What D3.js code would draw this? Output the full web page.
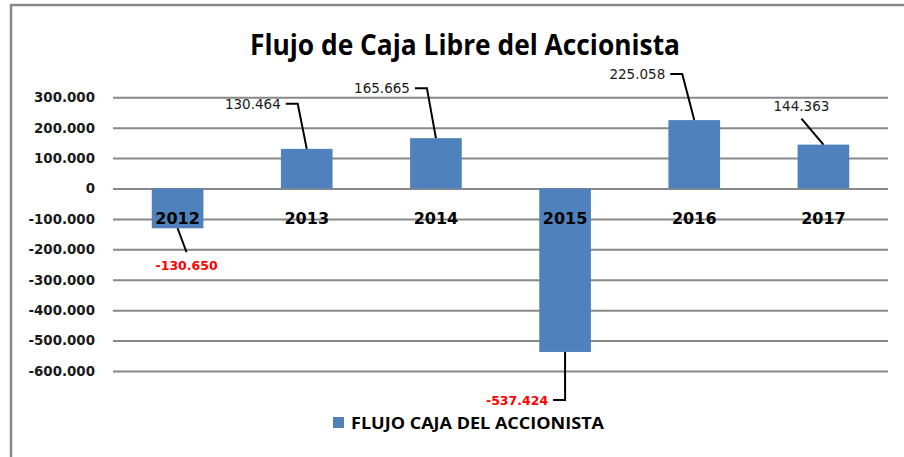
<!DOCTYPE html>
<html>
<head>
<meta charset="utf-8">
<script src="https://cdn.jsdelivr.net/npm/d3@7"></script>
<style>
  body { margin: 0; background: #fff; }
  svg { display: block; }
</style>
</head>
<body>
<div id="chart-area"></div>
<script>
// Data
const years = ["2012", "2013", "2014", "2015", "2016", "2017"];
const flujo = [-130650, 130464, 165665, -537424, 225058, 144363];
const tickValues = [300000, 200000, 100000, 0, -100000, -200000, -300000, -400000, -500000, -600000];
const seriesName = "FLUJO CAJA DEL ACCIONISTA";
const chartTitle = "Flujo de Caja Libre del Accionista";

// label placement relative to the bar tip (dx, dy, elbow style or straight)
const labelLayout = [
  { dx: 9, dy: 24, side: false },
  { dx: -9, dy: -45, side: true },
  { dx: -9, dy: -50, side: true },
  { dx: 0, dy: 48, side: true },
  { dx: -12, dy: -46, side: true },
  { dx: -22, dy: -26, side: false }
];

const W = 904, H = 457;
const barColor = "#4F81BD";
const gridColor = "#888888";

const fmt = v => {
  if (v === 0) return "0";
  const s = d3.format(",")(Math.abs(v)).replace(/,/g, ".");
  return (v < 0 ? "-" : "") + s;
};

const svg = d3
  .select("#chart-area")
  .append("svg")
  .attr("width", W)
  .attr("height", H);

// frame (top and left edges visible)
svg.append("path")
  .attr("d", `M11,${H} L11,5 L${W},5`)
  .attr("fill", "none")
  .attr("stroke", gridColor)
  .attr("stroke-width", 2.5);

// Title
svg.append("text")
  .attr("x", 465)
  .attr("y", 55)
  .attr("text-anchor", "middle")
  .attr("font-family", "'Open Sans', sans-serif")
  .attr("font-weight", "bold")
  .attr("font-size", "28px")
  .attr("textLength", 430)
  .attr("lengthAdjust", "spacingAndGlyphs")
  .attr("fill", "#000")
  .text(chartTitle);

// Scales
const plot = { left: 113, right: 888, top: 97.3, bottom: 371 };

const x = d3.scaleBand()
  .domain(years)
  .range([plot.left, plot.right])
  .paddingInner(0.6)
  .paddingOuter(0.3);

const y = d3.scaleLinear()
  .domain([-600000, 300000])
  .range([plot.bottom, plot.top]);

// Gridlines + tick labels
const yAxis = d3.axisLeft(y)
  .tickValues(tickValues)
  .tickSize(-(plot.right - plot.left))
  .tickFormat(fmt)
  .tickPadding(18);

const yAxisGroup = svg.append("g")
  .attr("transform", `translate(${plot.left},0)`)
  .call(yAxis);

yAxisGroup.select(".domain").remove();
yAxisGroup.selectAll(".tick line")
  .attr("stroke", gridColor)
  .attr("stroke-width", 2);
yAxisGroup.selectAll(".tick text")
  .attr("font-family", "'DejaVu Sans', sans-serif")
  .attr("font-weight", "bold")
  .attr("font-size", "13.4px")
  .attr("fill", "#1a1a1a");

// Bars
svg.append("g")
  .selectAll("rect")
  .data(flujo)
  .enter()
  .append("rect")
  .attr("x", (d, i) => x(years[i]))
  .attr("width", x.bandwidth())
  .attr("y", d => y(Math.max(0, d)))
  .attr("height", d => Math.abs(y(d) - y(0)))
  .attr("fill", barColor);

// Category labels (below zero line, drawn over bars)
svg.append("g")
  .selectAll("text")
  .data(years)
  .enter()
  .append("text")
  .attr("x", d => x(d) + x.bandwidth() / 2)
  .attr("y", y(0) + 35)
  .attr("text-anchor", "middle")
  .attr("font-family", "'DejaVu Sans', sans-serif")
  .attr("font-weight", "bold")
  .attr("font-size", "16px")
  .attr("fill", "#000")
  .text(d => d);

// Data labels with leader lines
const labels = svg.append("g");

flujo.forEach((v, i) => {
  const lay = labelLayout[i];
  const tx = x(years[i]) + x.bandwidth() / 2;
  const ty = y(v);
  const ex = tx + lay.dx;
  const ey = ty + lay.dy;
  const neg = v < 0;

  let pts, textX, textY, anchor;
  if (lay.side) {
    pts = [[tx, ty], [ex, ey], [ex - 12, ey]];
    textX = ex - 17;
    textY = ey + 5;
    anchor = "end";
  } else {
    pts = [[tx, ty], [ex, ey]];
    textX = ex;
    textY = neg ? ey + 18 : ey - 8;
    anchor = "middle";
  }

  labels.append("path")
    .attr("d", d3.line()(pts))
    .attr("fill", "none")
    .attr("stroke", "#000")
    .attr("stroke-width", 2);

  labels.append("text")
    .attr("x", textX)
    .attr("y", textY)
    .attr("text-anchor", anchor)
    .attr("font-family", "'DejaVu Sans', sans-serif")
    .attr("font-weight", neg ? "bold" : "normal")
    .attr("font-size", neg ? "12.5px" : "13.5px")
    .attr("fill", neg ? "#FF0000" : "#1a1a1a")
    .text(fmt(v));
});

// Legend
const legend = svg.append("g").attr("transform", "translate(333,417)");
legend.append("rect")
  .attr("width", 11)
  .attr("height", 11)
  .attr("fill", barColor);
legend.append("text")
  .attr("x", 18)
  .attr("y", 11.5)
  .attr("font-family", "'Open Sans', sans-serif")
  .attr("font-weight", "bold")
  .attr("font-size", "16px")
  .attr("textLength", 253)
  .attr("lengthAdjust", "spacingAndGlyphs")
  .attr("fill", "#000")
  .text(seriesName);
</script>
</body>
</html>
